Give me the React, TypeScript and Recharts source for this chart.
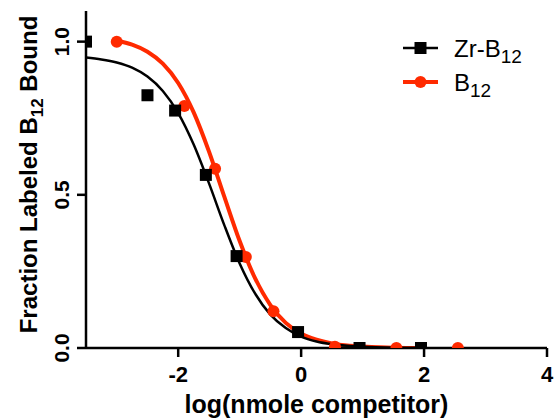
import { ComposedChart, Legend, Line, Scatter, XAxis, YAxis } from 'recharts';

// measured points
const zrX = [-3.5, -2.5, -2.05, -1.55, -1.05, -0.05, 0.95, 1.95];
const zrY = [1.0, 0.825, 0.775, 0.565, 0.3, 0.052, 0.0, 0.0];
const b12X = [-3.0, -1.9, -1.4, -0.9, -0.45, 0.55, 1.55, 2.55];
const b12Y = [1.0, 0.79, 0.585, 0.297, 0.12, 0.004, 0.0, 0.0];

// fitted curves
const zrFitX = [-3.5, -3.25, -3, -2.75, -2.5, -2.25, -2, -1.75, -1.5, -1.25, -1, -0.75, -0.5, -0.25, 0, 0.25, 0.5, 0.75, 1, 1.5, 2];
const zrFitY = [0.948, 0.942, 0.932, 0.915, 0.886, 0.839, 0.767, 0.665, 0.538, 0.401, 0.276, 0.178, 0.109, 0.065, 0.037, 0.021, 0.012, 0.007, 0.004, 0.001, 0.0];
const b12FitX = [-3, -2.75, -2.5, -2.25, -2, -1.75, -1.5, -1.25, -1, -0.75, -0.5, -0.25, 0, 0.25, 0.5, 0.75, 1, 1.5, 2];
const b12FitY = [1.003, 0.99, 0.967, 0.928, 0.865, 0.77, 0.642, 0.494, 0.349, 0.228, 0.14, 0.082, 0.047, 0.027, 0.015, 0.008, 0.005, 0.001, 0.0];

const xTicks = [-2, 0, 2, 4];
const yTicks = [0, 0.5, 1];

const legendItems = [
  { name: 'Zr-B', sub: '12', color: '#000000', shape: 'square' },
  { name: 'B', sub: '12', color: '#ff2a00', shape: 'circle' },
];

const zip = (xs: number[], ys: number[]) => xs.map((x, i) => ({ x, y: ys[i] }));

const zrPts = zip(zrX, zrY);
const b12Pts = zip(b12X, b12Y);
const zrFit = zip(zrFitX, zrFitY);
const b12Fit = zip(b12FitX, b12FitY);

const FONT = '"Liberation Sans", Arial, sans-serif';
const RED = '#ff2a00';

const Square = (p: any) => <rect x={p.cx - 6} y={p.cy - 6} width={12} height={12} fill="#000" />;
const Dot = (p: any) => <circle cx={p.cx} cy={p.cy} r={6} fill={RED} />;

const XTick = ({ x, y, payload }: any) => (
  <text x={x} y={y + 23} textAnchor="middle" fontFamily={FONT} fontWeight="bold" fontSize={22} fill="#000">
    {payload.value}
  </text>
);

const YTick = ({ x, y, payload }: any) => (
  <text
    x={x - 6}
    y={y}
    textAnchor="middle"
    transform={`rotate(-90 ${x - 6} ${y})`}
    fontFamily={FONT}
    fontWeight="bold"
    fontSize={21}
    fill="#000"
  >
    {Number(payload.value).toFixed(1)}
  </text>
);

const XLabel = ({ viewBox }: any) => (
  <text
    x={viewBox.x + viewBox.width / 2}
    y={413}
    textAnchor="middle"
    fontFamily={FONT}
    fontWeight="bold"
    fontSize={25}
    fill="#000"
  >
    log(nmole competitor)
  </text>
);

const YLabel = ({ viewBox }: any) => {
  const cx = 37;
  const cy = viewBox.y + viewBox.height / 2 - 5;
  return (
    <text
      x={cx}
      y={cy}
      textAnchor="middle"
      transform={`rotate(-90 ${cx} ${cy})`}
      fontFamily={FONT}
      fontWeight="bold"
      fontSize={24}
      fill="#000"
    >
      Fraction Labeled B
      <tspan fontSize={17} dy={6}>12</tspan>
      <tspan dy={-6}> Bound</tspan>
    </text>
  );
};

const LegendBox = () => (
  <svg width={160} height={80}>
    {legendItems.map((item, i) => {
      const cy = 13 + i * 34;
      return (
        <g key={item.name}>
          <line x1={8} x2={43} y1={cy} y2={cy} stroke={item.color} strokeWidth={item.shape === 'circle' ? 4 : 2.5} />
          {item.shape === 'square' ? (
            <rect x={19.5} y={cy - 6} width={12} height={12} fill={item.color} />
          ) : (
            <circle cx={25.5} cy={cy} r={6} fill={item.color} />
          )}
          <text x={59} y={cy + 9} fontFamily={FONT} fontSize={24} fill="#000">
            {item.name}
            <tspan fontSize={19} dy={6}>{item.sub}</tspan>
          </text>
        </g>
      );
    })}
  </svg>
);

export default function App() {
  return (
    <div style={{ position: 'fixed', left: 0, top: 0, background: '#fff' }}>
      <ComposedChart width={555} height={418} margin={{ top: 11, right: 8, left: 0, bottom: 0 }}>
        <XAxis
          type="number"
          dataKey="x"
          domain={[-3.5, 4]}
          ticks={xTicks}
          allowDataOverflow
          height={70}
          axisLine={{ stroke: '#000', strokeWidth: 2.5 }}
          tickLine={{ stroke: '#000', strokeWidth: 2.5 }}
          tickSize={9}
          tick={<XTick />}
          label={<XLabel />}
        />
        <YAxis
          type="number"
          dataKey="y"
          domain={[0, 1.1]}
          ticks={yTicks}
          allowDataOverflow
          width={86}
          axisLine={{ stroke: '#000', strokeWidth: 2.5 }}
          tickLine={{ stroke: '#000', strokeWidth: 2.5 }}
          tickSize={9}
          tick={<YTick />}
          label={<YLabel />}
        />
        <Legend
          layout="horizontal"
          verticalAlign="middle"
          content={<LegendBox />}
          wrapperStyle={{ position: 'absolute', left: 395, top: 35, width: 160 }}
        />
        <Line data={b12Fit} dataKey="y" type="monotone" stroke={RED} strokeWidth={4} dot={false} isAnimationActive={false} legendType="none" />
        <Scatter data={b12Pts} dataKey="y" shape={<Dot />} isAnimationActive={false} />
        <Line data={zrFit} dataKey="y" type="monotone" stroke="#000" strokeWidth={2.5} dot={false} isAnimationActive={false} legendType="none" />
        <Scatter data={zrPts} dataKey="y" shape={<Square />} isAnimationActive={false} />
      </ComposedChart>
    </div>
  );
}
